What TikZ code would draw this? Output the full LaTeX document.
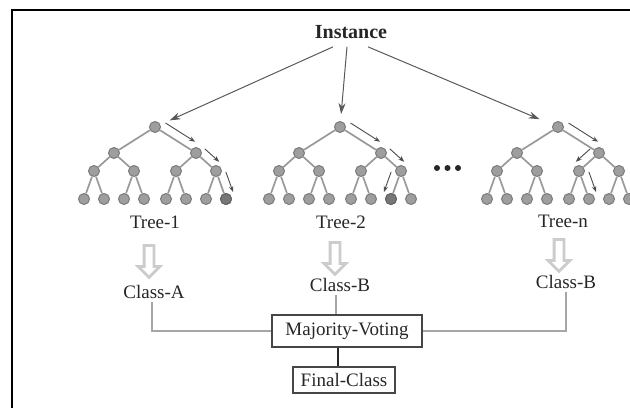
\documentclass[tikz,border=0pt]{standalone}
\usepackage{fontspec}
\setmainfont{Liberation Serif}
\usetikzlibrary{calc}
\usetikzlibrary{shapes,arrows}
\usetikzlibrary{arrows.meta}
\usetikzlibrary{positioning}

\definecolor{nodefill}{gray}{0.62}
\definecolor{nodeline}{gray}{0.48}
\definecolor{branchgray}{gray}{0.6}

\tikzset{
    treenode/.style={circle, draw=nodeline, fill=nodefill, line width=1pt, minimum size=11pt, inner sep=0pt},
    branch/.style={draw=branchgray, line width=1.7pt},
    walkarrow/.style={draw=black!70, line width=0.9pt, -{Stealth[length=6pt, width=4.5pt]}},
    rootarrow/.style={draw=black!65, line width=1pt, -{Stealth[length=11pt, width=7pt]}, shorten >=10pt},
    namefont/.style={font=\fontsize{19}{22}\selectfont, text=black!85, inner sep=3pt},
    hollow/.style={single arrow, rotate=-90, draw=gray!40, line width=2.8pt, fill=white, inner sep=3.5pt,
        minimum height=32pt, single arrow head extend=6pt, single arrow head indent=0pt},
    link/.style={draw=gray!70, line width=1.5pt},
    votebox/.style={namefont, draw=gray!55!black, line width=1.3pt}
}

% one tree: #1 = name of root, #2 = x of root
\newcommand{\rftree}[2]{%
    \node[treenode] (#1) at (#2,127) {};
    \foreach \a in {0,1}{
        \pgfmathsetmacro{\xa}{#2-41+82*\a}
        \node[treenode] (#1-\a) at (\xa,153) {};
        \draw[branch] (#1) -- (#1-\a);
        \foreach \b in {0,1}{
            \pgfmathsetmacro{\xb}{\xa-20+40*\b}
            \node[treenode] (#1-\a\b) at (\xb,171) {};
            \draw[branch] (#1-\a) -- (#1-\a\b);
            \foreach \c in {0,1}{
                \pgfmathsetmacro{\xc}{\xb-10+20*\c}
                \node[treenode] (#1-\a\b\c) at (\xc,199) {};
                \draw[branch] (#1-\a\b) -- (#1-\a\b\c);
            }
        }
    }
}

% arrow beside an edge: #3 = side (90 or -90)
\newcommand{\treewalk}[3]{%
    \draw[walkarrow] ($(#1)!.14!(#2)!9pt!#3:(#2)$) -- ($(#1)!.86!(#2)!9pt!#3:(#2)$);
}

\begin{document}
\begin{tikzpicture}[x=1pt, y=-1pt]
    \useasboundingbox (0,0) rectangle (630,408);
    \draw[line width=1.3pt](12,408) -- (12,10) -- (630,10);

    \node[font=\fontsize{20}{24}\selectfont\bfseries, text=black!85, inner sep=8pt] (inst) at (351,32) {Instance};

    \rftree{t1}{155}
    \rftree{t2}{340}
    \rftree{tn}{558}
    \filldraw[draw=nodeline!80!black, fill=nodefill!75!black, line width=1pt] (t1-111) circle (5.5pt);
    \filldraw[draw=nodeline!80!black, fill=nodefill!75!black, line width=1pt] (t2-110) circle (5.5pt);

    \draw[rootarrow] ([xshift=-18pt]inst.south) -- (t1);
    \draw[rootarrow, shorten >=7pt] ([xshift=-4pt]inst.south) -- (t2);
    \draw[rootarrow, shorten >=14pt] ([xshift=17pt]inst.south) -- (tn);

    \treewalk{t1}{t1-1}{90}
    \treewalk{t1-1}{t1-11}{90}
    \treewalk{t1-11}{t1-111}{90}
    \treewalk{t2}{t2-1}{90}
    \treewalk{t2-1}{t2-11}{90}
    \treewalk{t2-11}{t2-110}{-90}
    \treewalk{tn}{tn-1}{90}
    \treewalk{tn-1}{tn-10}{-90}
    \treewalk{tn-10}{tn-101}{90}

    \foreach \q in {437,447.5,458}{
        \fill[black!85](\q,168) circle (3pt);
    }

    \node[namefont] (name1) at (155,222) {Tree-1};
    \node[namefont] (name2) at (341,222) {Tree-2};
    \node[namefont] (namen) at (563,221) {Tree-n};

    \node[hollow] (hol1) at (149,259) {};
    \node[hollow] (hol2) at (335,256) {};
    \node[hollow] (holn) at (559,253) {};

    \node[namefont] (clsA) at (154,292) {Class-A};
    \node[namefont] (clsB) at (340,285) {Class-B};
    \node[namefont] (clsN) at (566,282) {Class-B};

    \node[votebox, minimum width=150pt, minimum height=32pt] (vote) at (347,331) {Majority-Voting};
    \node[votebox, minimum width=102pt, minimum height=26pt] (final) at (344,380) {Final-Class};

    \draw[link] ([xshift=-2pt]clsA.south) |- (vote.west);
    \draw[link] ([xshift=-4pt]clsB.south) -- ([xshift=-4pt]clsB.south |- vote.north);
    \draw[link] (vote.east) -| (clsN.south);
    \draw[line width=1.5pt, black!85] ([xshift=-9pt]vote.south) -- ([xshift=-9pt]vote.south |- final.north);
\end{tikzpicture}
\end{document}
